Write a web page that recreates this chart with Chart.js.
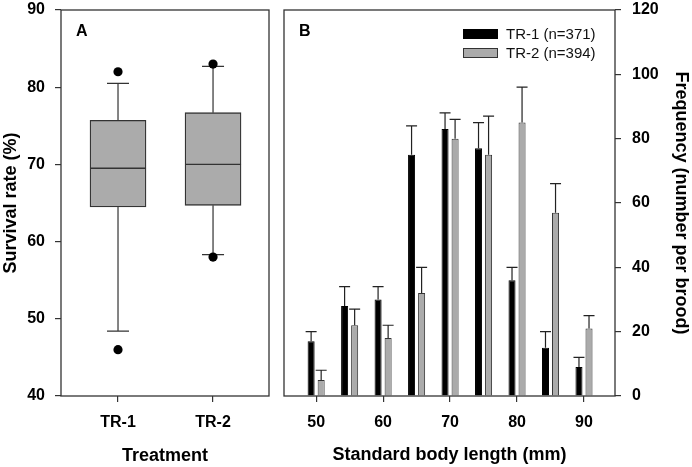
<!DOCTYPE html>
<html><head><meta charset="utf-8">
<script src="https://cdn.jsdelivr.net/npm/chart.js@4/dist/chart.umd.min.js"></script>
<style>
html,body{margin:0;padding:0;background:#fff;}
#wrap{position:relative;width:692px;height:467px;overflow:hidden;background:#fff;}
#ca{position:absolute;left:0;top:0;}
#cb{position:absolute;left:276px;top:0;}
</style></head><body>
<div id="wrap"><canvas id="ca" width="276" height="467"></canvas><canvas id="cb" width="416" height="467"></canvas></div>
<script>
// ---- Panel A: box plot data ----
const treatments = ['TR-1', 'TR-2'];
const whiskerLow = [48.4, 58.3];
const q1 = [64.5, 64.7];
const median = [69.5, 70.0];
const q3 = [75.7, 76.7];
const whiskerHigh = [80.5, 82.7];
const outliersHigh = [82.0, 83.0];
const outliersLow = [46.0, 58.0];
const survivalTicks = [40, 50, 60, 70, 80, 90];

// ---- Panel B: frequency data ----
const lengths = [50, 55, 60, 65, 70, 75, 80, 85, 90];
const tr1Freq = [17, 28, 30, 75, 83, 77, 36, 15, 9];
const tr1Err = [3, 6, 4, 9, 5, 8, 4, 5, 3];
const tr2Freq = [5, 22, 18, 32, 80, 75, 85, 57, 21];
const tr2Err = [3, 5, 4, 8, 6, 12, 11, 9, 4];
const lengthTicks = [50, 60, 70, 80, 90];
const freqTicks = [0, 20, 40, 60, 80, 100, 120];
const seriesLabels = ['TR-1 (n=371)', 'TR-2 (n=394)'];

Chart.defaults.font.family = "'Liberation Sans', Arial, sans-serif";
Chart.defaults.color = '#000';
const INK = '#333';
const GREY = '#ababab';
const tickFont = {size: 16, weight: 'bold'};
const titleFont = {size: 18, weight: 'bold'};

function fixSize(prop, val) {
  return s => {
    s[prop] = val;
    s.paddingTop = 0; s.paddingBottom = 0; s.paddingLeft = 0; s.paddingRight = 0;
  };
}

const framePlugin = {
  id: 'frame',
  afterDatasetsDraw(chart) {
    const {ctx, chartArea: a} = chart;
    ctx.save();
    ctx.strokeStyle = INK; ctx.lineWidth = 1.3;
    ctx.strokeRect(a.left, a.top, a.right - a.left, a.bottom - a.top);
    ctx.restore();
  }
};
function panelLetter(letter) {
  return {
    id: 'letter' + letter,
    afterDraw(chart) {
      const {ctx, chartArea: a} = chart;
      ctx.save();
      ctx.font = "bold 16px 'Liberation Sans', Arial, sans-serif";
      ctx.fillStyle = '#000'; ctx.textBaseline = 'middle'; ctx.textAlign = 'left';
      ctx.fillText(letter, a.left + 15, a.top + 22);
      ctx.restore();
    }
  };
}

const whiskerPlugin = {
  id: 'whiskers',
  beforeDatasetsDraw(chart) {
    const {ctx, scales: {x, y}} = chart;
    ctx.save();
    ctx.strokeStyle = INK; ctx.lineWidth = 1.2;
    treatments.forEach((t, i) => {
      const cx = x.getPixelForValue(i + 1);
      const half = 11;
      const yl = y.getPixelForValue(whiskerLow[i]), yq1 = y.getPixelForValue(q1[i]);
      const yh = y.getPixelForValue(whiskerHigh[i]), yq3 = y.getPixelForValue(q3[i]);
      ctx.beginPath();
      ctx.moveTo(cx, yq1); ctx.lineTo(cx, yl);
      ctx.moveTo(cx - half, yl); ctx.lineTo(cx + half, yl);
      ctx.moveTo(cx, yq3); ctx.lineTo(cx, yh);
      ctx.moveTo(cx - half, yh); ctx.lineTo(cx + half, yh);
      ctx.stroke();
    });
    ctx.restore();
  },
  afterDatasetsDraw(chart) {
    const {ctx, scales: {y}} = chart;
    const meta = chart.getDatasetMeta(0);
    ctx.save();
    ctx.strokeStyle = INK; ctx.lineWidth = 1.3;
    meta.data.forEach((el, i) => {
      const ym = y.getPixelForValue(median[i]);
      ctx.beginPath();
      ctx.moveTo(el.x - el.width / 2, ym); ctx.lineTo(el.x + el.width / 2, ym);
      ctx.stroke();
    });
    ctx.restore();
  }
};

new Chart(document.getElementById('ca'), {
  type: 'bar',
  data: {
    datasets: [
      {
        data: treatments.map((t, i) => ({x: i + 1, y: [q1[i], q3[i]]})),
        backgroundColor: GREY, borderColor: INK, borderWidth: 1.3,
        borderSkipped: false, barThickness: 56
      },
      {
        type: 'scatter',
        data: treatments.flatMap((t, i) => [{x: i + 1, y: outliersHigh[i]}, {x: i + 1, y: outliersLow[i]}]),
        pointRadius: 4.6, backgroundColor: '#000', borderWidth: 0
      }
    ]
  },
  options: {
    responsive: false, animation: false, devicePixelRatio: 1,
    layout: {padding: {left: 0, top: 10, right: 7, bottom: 0}},
    plugins: {legend: {display: false}, tooltip: {enabled: false}},
    scales: {
      x: {
        type: 'linear', min: 0.4, max: 2.589, offset: false,
        afterBuildTicks: s => { s.ticks = treatments.map((t, i) => ({value: i + 1})); },
        afterFit: fixSize('height', 71),
        ticks: {callback: (v, i) => treatments[i], font: tickFont, padding: 11, color: '#000'},
        grid: {offset: false, drawOnChartArea: false, drawTicks: true, tickLength: 6, color: INK, lineWidth: 1.2},
        border: {display: false},
        title: {display: true, text: 'Treatment', font: titleFont, color: '#000', padding: {top: 0, bottom: 0}}
      },
      y: {
        type: 'linear', min: 40, max: 90,
        afterBuildTicks: s => { s.ticks = survivalTicks.map(v => ({value: v})); },
        afterFit: fixSize('width', 61),
        ticks: {font: tickFont, padding: 10, color: '#000'},
        grid: {drawOnChartArea: false, drawTicks: true, tickLength: 6, color: INK, lineWidth: 1.2},
        border: {display: false},
        title: {display: true, text: 'Survival rate (%)', font: titleFont, color: '#000', padding: {top: 0, bottom: 0}}
      }
    }
  },
  plugins: [whiskerPlugin, framePlugin, panelLetter('A')]
});

const errorPlugin = {
  id: 'errbars',
  afterDatasetsDraw(chart) {
    const {ctx, scales: {y}} = chart;
    ctx.save();
    ctx.strokeStyle = '#222'; ctx.lineWidth = 1.2;
    chart.data.datasets.forEach((ds, di) => {
      const meta = chart.getDatasetMeta(di);
      meta.data.forEach((el, i) => {
        const top = y.getPixelForValue(ds.data[i].y + ds.errs[i]);
        ctx.beginPath();
        ctx.moveTo(el.x, el.y); ctx.lineTo(el.x, top);
        ctx.moveTo(el.x - 5.5, top); ctx.lineTo(el.x + 5.5, top);
        ctx.stroke();
      });
    });
    ctx.restore();
  }
};
const legendPlugin = {
  id: 'customLegend',
  afterDraw(chart) {
    const {ctx, chartArea: a} = chart;
    ctx.save();
    ctx.font = "15px 'Liberation Sans', Arial, sans-serif";
    ctx.textBaseline = 'middle'; ctx.textAlign = 'left';
    chart.data.datasets.forEach((ds, i) => {
      const bx = a.left + 179, by = a.top + 19 + i * 19;
      ctx.fillStyle = ds.backgroundColor; ctx.fillRect(bx, by, 35, 10);
      ctx.strokeStyle = ds.borderColor; ctx.lineWidth = 1; ctx.strokeRect(bx + 0.5, by + 0.5, 34, 9);
      ctx.fillStyle = '#111';
      ctx.fillText(ds.label, bx + 43, by + 5.5);
    });
    ctx.restore();
  }
};

new Chart(document.getElementById('cb'), {
  type: 'bar',
  data: {
    datasets: [
      {
        label: seriesLabels[0],
        data: lengths.map((x, i) => ({x, y: tr1Freq[i]})), errs: tr1Err,
        backgroundColor: '#000', borderColor: '#000', borderWidth: 1,
        categoryPercentage: 0.6, barPercentage: 0.7
      },
      {
        label: seriesLabels[1],
        data: lengths.map((x, i) => ({x, y: tr2Freq[i]})), errs: tr2Err,
        backgroundColor: GREY, borderColor: INK, borderWidth: 1,
        categoryPercentage: 0.6, barPercentage: 0.7
      }
    ]
  },
  options: {
    responsive: false, animation: false, devicePixelRatio: 1,
    layout: {padding: {left: 8, top: 10, right: 0, bottom: 0}},
    plugins: {legend: {display: false}, tooltip: {enabled: false}},
    scales: {
      x: {
        type: 'linear', min: 45.2, max: 94.63, offset: false,
        afterBuildTicks: s => { s.ticks = lengthTicks.map(v => ({value: v})); },
        afterFit: fixSize('height', 71),
        ticks: {font: tickFont, padding: 11, color: '#000'},
        grid: {offset: false, drawOnChartArea: false, drawTicks: true, tickLength: 6, color: INK, lineWidth: 1.2},
        border: {display: false},
        title: {display: true, text: 'Standard body length (mm)', font: titleFont, color: '#000', padding: {top: 0, bottom: 1}}
      },
      y: {
        type: 'linear', position: 'right', min: 0, max: 120,
        afterBuildTicks: s => { s.ticks = freqTicks.map(v => ({value: v})); },
        afterFit: fixSize('width', 77),
        ticks: {font: tickFont, padding: 11, color: '#000'},
        grid: {drawOnChartArea: false, drawTicks: true, tickLength: 6, color: INK, lineWidth: 1.2},
        border: {display: false},
        title: {display: true, text: 'Frequency (number per brood)', font: titleFont, color: '#000', padding: {top: 0, bottom: 0}}
      }
    }
  },
  plugins: [errorPlugin, framePlugin, legendPlugin, panelLetter('B')]
});
</script>
</body></html>
